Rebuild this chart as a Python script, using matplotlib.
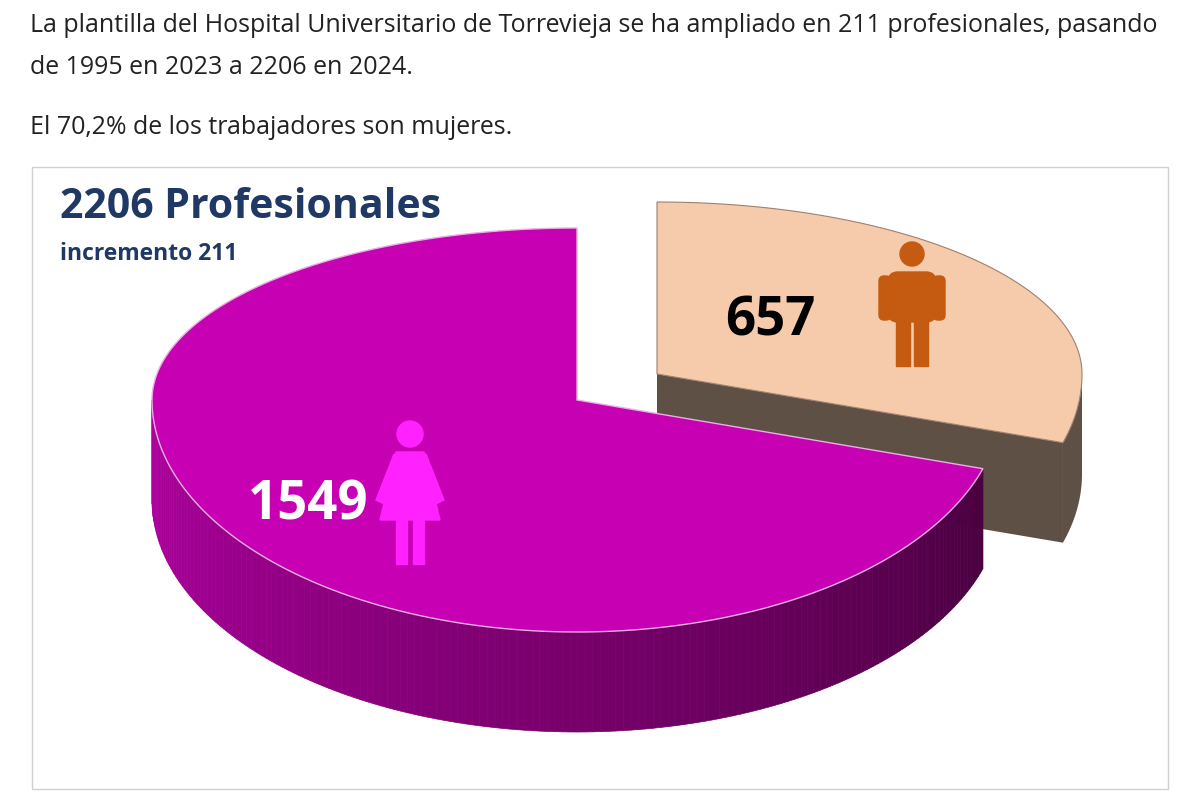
import numpy as np
import matplotlib.pyplot as plt
from matplotlib.patches import Polygon, Rectangle, Circle, FancyBboxPatch
from matplotlib.colors import to_rgb

plt.rcParams["font.family"] = "Open Sans"

labels = ["Mujeres", "Hombres"]
values = [1549, 657]
total_label = "2206 Profesionales"
sub_label = "incremento 211"
intro_lines = [
    "La plantilla del Hospital Universitario de Torrevieja se ha ampliado en 211 profesionales, pasando",
    "de 1995 en 2023 a 2206 en 2024.",
    "El 70,2% de los trabajadores son mujeres.",
]

top_colors = ["#c800b4", "#f6cbab"]
side_dark = "#4a0040"
male_side = "#5f5045"

# perspective: back half flatter than front half
cx, cy, rx, ry_back, ry_front, depth = 577, 400, 425, 172, 232, 100
explode = (80, -26)


def pt(t, dx=0, dy=0, dz=0):
    s = np.sin(t)
    ry = ry_back if s > 0 else ry_front
    return (cx + dx + rx * np.cos(t), cy + dy - ry * s + dz)


fig = plt.figure(figsize=(12, 7.92), dpi=100)
ax = fig.add_axes([0, 0, 1, 1])
ax.set_xlim(0, 1200)
ax.set_ylim(792, 0)
ax.axis("off")

ys = [26, 68, 128]
for y, line in zip(ys, intro_lines):
    ax.text(30, y, line, fontsize=18, va="center", ha="left", color="#222222")
ax.add_patch(Rectangle((32, 167), 1136, 622, fill=False, ec="#d0d0d0", lw=1))

fracs = np.array(values) / sum(values)
a0 = np.pi / 2
a_f = a0 + 2 * np.pi * fracs[0]  # female: from 90deg counterclockwise

# male slice (drawn first, it sits behind)
m0, m1 = a_f - 2 * np.pi, a0
dx, dy = explode
cxm, cym = cx + dx, cy + dy
edge = [(cxm, cym), pt(m0, dx, dy)]
ax.add_patch(Polygon(edge + [pt(m0, dx, dy, depth), (cxm, cym + depth)],
                     closed=True, fc=male_side, ec="none"))
ts = np.linspace(m0, 0, 20)
side = [pt(t, dx, dy) for t in ts] + [pt(t, dx, dy, depth) for t in ts[::-1]]
ax.add_patch(Polygon(side, closed=True, fc=male_side, ec="none"))
ts = np.linspace(m0, m1, 100)
top = [(cxm, cym)] + [pt(t, dx, dy) for t in ts]
ax.add_patch(Polygon(top, closed=True, fc=top_colors[1], ec="#a08070", lw=0.8))

# female slice side with gradient
ts = np.linspace(np.pi, a_f, 160)
c1, c2 = np.array(to_rgb("#b000a0")), np.array(to_rgb(side_dark))
for i in range(len(ts) - 1):
    f = i / (len(ts) - 2)
    col = c1 * (1 - f) + c2 * f
    quad = [pt(ts[i]), pt(ts[i + 1]), pt(ts[i + 1], dz=depth), pt(ts[i], dz=depth)]
    ax.add_patch(Polygon(quad, closed=True, fc=col, ec=col, lw=0.5))
ts = np.linspace(a0, a_f, 200)
top = [(cx, cy)] + [pt(t) for t in ts]
ax.add_patch(Polygon(top, closed=True, fc=top_colors[0], ec="#e8b0e0", lw=1))

ax.text(60, 208, total_label, fontsize=29.5, fontweight="bold", color="#1f3864", va="center")
ax.text(60, 254, sub_label, fontsize=16.5, fontweight="bold", color="#1f3864", va="center")

ax.text(770, 322, str(values[1]), fontsize=38, fontweight="bold", color="black", ha="center", va="center")
ax.text(308, 505, str(values[0]), fontsize=38, fontweight="bold", color="white", ha="center", va="center")


def man(x, y, col):
    ax.add_patch(Circle((x, y + 14), 12, color=col))
    ax.add_patch(FancyBboxPatch((x - 24, y + 32), 48, 50, boxstyle="round,pad=0,rounding_size=10", color=col))
    ax.add_patch(Rectangle((x - 16, y + 70), 14, 56, color=col))
    ax.add_patch(Rectangle((x + 2, y + 70), 14, 56, color=col))
    ax.add_patch(FancyBboxPatch((x - 33, y + 36), 12, 44, boxstyle="round,pad=0,rounding_size=5", color=col))
    ax.add_patch(FancyBboxPatch((x + 21, y + 36), 12, 44, boxstyle="round,pad=0,rounding_size=5", color=col))


def woman(x, y, col):
    ax.add_patch(Circle((x, y + 14), 13, color=col))
    ax.add_patch(Polygon([(x - 14, y + 32), (x + 14, y + 32), (x + 30, y + 100), (x - 30, y + 100)], color=col))
    ax.add_patch(Rectangle((x - 14, y + 98), 11, 46, color=col))
    ax.add_patch(Rectangle((x + 3, y + 98), 11, 46, color=col))
    ax.add_patch(Polygon([(x - 16, y + 34), (x - 10, y + 38), (x - 26, y + 84), (x - 34, y + 80)], color=col))
    ax.add_patch(Polygon([(x + 16, y + 34), (x + 10, y + 38), (x + 26, y + 84), (x + 34, y + 80)], color=col))


man(912, 240, "#c55a11")
woman(410, 420, "#ff22ff")

fig.savefig("out.png", dpi=100)
